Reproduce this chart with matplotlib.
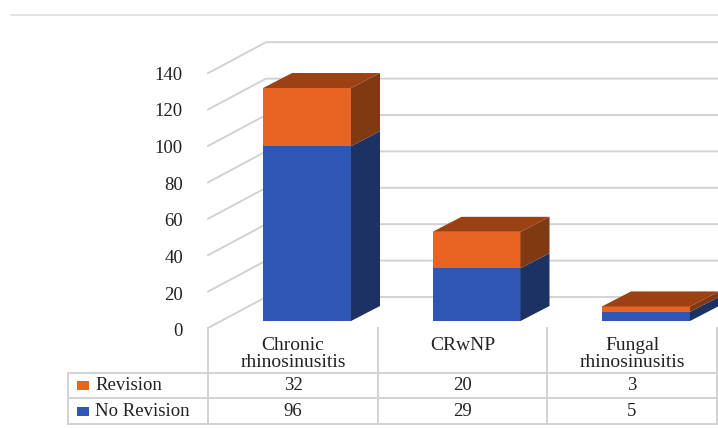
import numpy as np
import matplotlib.pyplot as plt
from matplotlib.patches import Polygon, Rectangle

plt.rcParams['font.family'] = 'Liberation Serif'

categories = ['Chronic\nrhinosinusitis', 'CRwNP', 'Fungal\nrhinosinusitis']
no_revision = [96, 29, 5]
revision = [32, 20, 3]
y_ticks = [0, 20, 40, 60, 80, 100, 120, 140]

W, H = 718, 428
BLUE, ORANGE = '#2E57B5', '#E96422'
BLUE_SIDE, ORANGE_SIDE = '#1C3264', '#7F3A14'
TOP = '#9C4114'
LINE = '#D2D2D2'
TXT = '#222222'

# pixels of the picture that fix the scales
cat_px = 169.5     # one category
val_px = 1.82      # one unit of value
x0_px = 307        # centre of first bar
y0_px = 321        # value 0 at bar front

fig = plt.figure(figsize=(W / 100, H / 100), dpi=100)
ax = fig.add_axes([0, 0, 1, 1])
ax.set_xlim(-x0_px / cat_px, (W - x0_px) / cat_px)
ax.set_ylim((y0_px - H) / val_px, y0_px / val_px)
ax.axis('off')

# overlay in picture pixels for the table and the frame
pix = fig.add_axes([0, 0, 1, 1], facecolor='none')
pix.set_xlim(0, W)
pix.set_ylim(H, 0)
pix.axis('off')

def to_x(px):
    return (px - x0_px) / cat_px

def to_val(py):
    return (y0_px - py) / val_px

# 3d depth of a bar, in data units
dx = 29 / cat_px
dy = 15 / val_px
width = 88 / cat_px

# walls and gridlines
for t in y_ticks:
    front_y = to_val(328) + t
    back_y = to_val(297) + t
    ax.plot([to_x(208), to_x(266), to_x(W)], [front_y, back_y, back_y], color=LINE, lw=1.4, zorder=1)
    # labels sit a bit lower than the line ends
    ax.text(to_x(183), to_val(332) + t * 1.008, str(t), ha='right', va='center', fontsize=13.5, color=TXT)

# bars
xs = np.arange(len(categories))
bottoms = np.zeros(len(categories))
for vals, col, side in [(no_revision, BLUE, BLUE_SIDE), (revision, ORANGE, ORANGE_SIDE)]:
    ax.bar(xs, vals, width=width, bottom=bottoms, color=col, zorder=3)
    for x, b, v in zip(xs, bottoms, vals):
        r = x + width / 2
        ax.add_patch(Polygon([(r, b), (r, b + v), (r + dx, b + v + dy), (r + dx, b + dy)],
                             closed=True, facecolor=side, edgecolor='none', zorder=3))
    bottoms = bottoms + np.array(vals)
for x, t in zip(xs, bottoms):
    l, r = x - width / 2, x + width / 2
    ax.add_patch(Polygon([(l, t), (r, t), (r + dx, t + dy), (l + dx, t + dy)],
                         closed=True, facecolor=TOP, edgecolor='none', zorder=3))

# data table
col_edges = [208, 378, 547, 717]
row_edges = [373, 398, 423.5]
for py in row_edges:
    pix.plot([68, W], [py, py], color=LINE, lw=1.4)
pix.plot([68, 68], [row_edges[0], row_edges[-1]], color=LINE, lw=1.4)
for px in col_edges:
    pix.plot([px, px], [328, row_edges[-1]], color=LINE, lw=1.4)
pix.plot([11, W], [15, 15], color='#DEDEDE', lw=1.2)

for i, cat in enumerate(categories):
    cx = (col_edges[i] + col_edges[i + 1]) / 2
    pix.text(cx, 337, cat, ha='center', va='top', fontsize=14, color=TXT, linespacing=1.0)
    pix.text(cx, 385.5, str(revision[i]), ha='center', va='center', fontsize=13.5, color=TXT)
    pix.text(cx, 411, str(no_revision[i]), ha='center', va='center', fontsize=13.5, color=TXT)

for label, col, py in [('Revision', ORANGE, 385.5), ('No Revision', BLUE, 411)]:
    pix.add_patch(Rectangle((77, py - 4.5), 12, 9, facecolor=col, edgecolor='none'))
    pix.text(95, py, label, ha='left', va='center', fontsize=13.5, color=TXT)

fig.savefig('out.png', dpi=100)
